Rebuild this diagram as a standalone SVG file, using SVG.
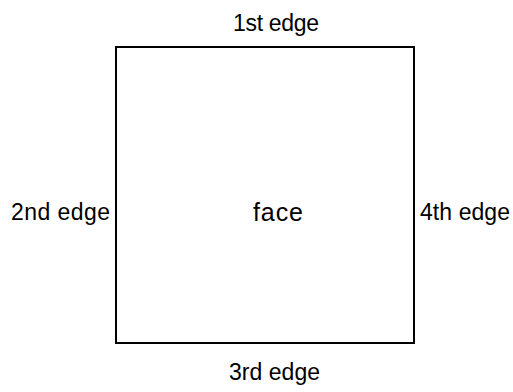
<svg xmlns="http://www.w3.org/2000/svg" width="513" height="392" viewBox="0 0 513 392">
<style>
text{font-family:"Liberation Sans",Arial,sans-serif;font-size:23px;fill:#000}
.edge{fill:none;stroke:#000;stroke-width:2}
</style>
<rect width="513" height="392" fill="#fff"/>
<g id="face">
<rect class="edge" x="116" y="47" width="298" height="296"/>
<text x="253" y="221" style="font-size:25px" textLength="50">face</text>
</g>
<g id="connectors"></g>
<g id="labels">
<text x="233" y="31" textLength="86">1st edge</text>
<text x="11" y="220" textLength="99">2nd edge</text>
<text x="229" y="380" textLength="91">3rd edge</text>
<text x="420" y="220" textLength="90">4th edge</text>
</g>
</svg>
